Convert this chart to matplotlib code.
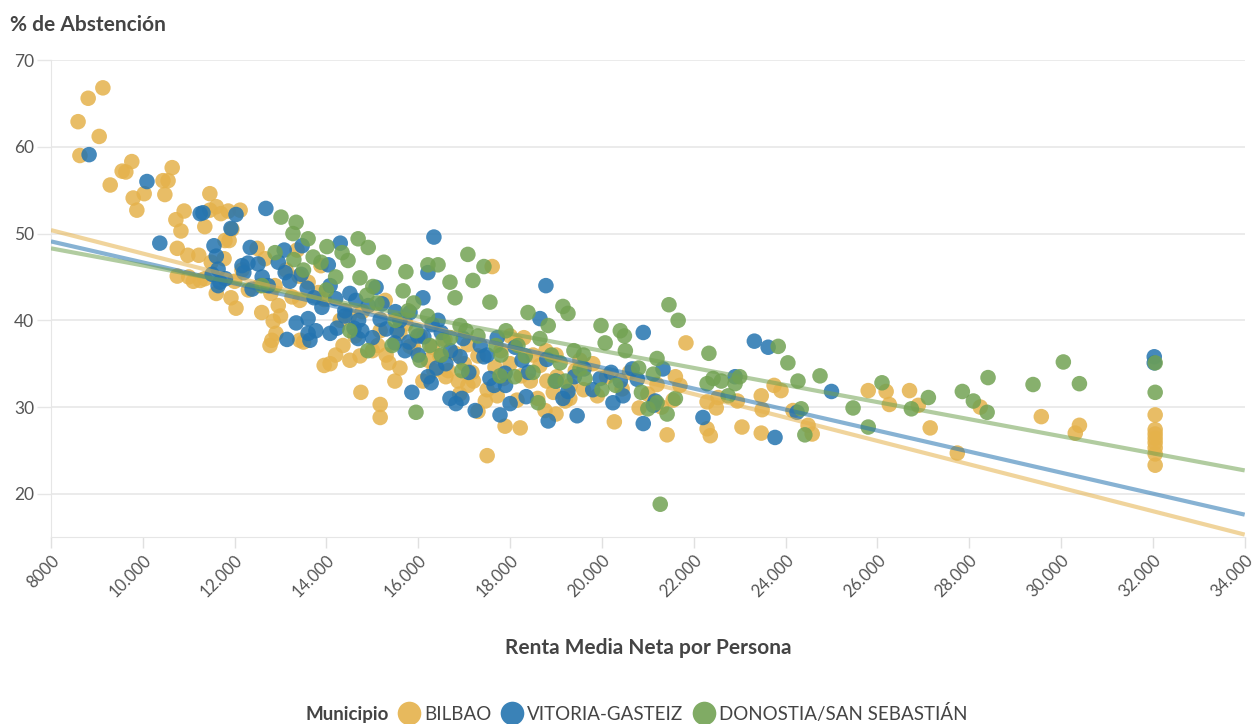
import numpy as np
import matplotlib
matplotlib.use('Agg')
import matplotlib.pyplot as plt
from matplotlib.lines import Line2D

plt.rcParams['font.family'] = ['Lato', 'DejaVu Sans']

# renta media neta (miles de euros) y % de abstención
bilbao_renta = [8.59, 8.81, 9.13, 8.63, 9.05, 9.29, 9.55, 9.63, 9.76, 9.79, 9.87, 10.03, 10.48, 10.44, 10.64,
                10.55, 10.72, 10.83, 10.9, 10.75, 10.98, 10.75, 11.46, 11.6, 11.7, 11.79, 11.86, 11.46, 11.35,
                11.94, 12.12, 11.22, 11.35, 11.25, 11.49, 11.6, 11.92, 12.03, 11.77, 12.16, 11.88, 12.49, 12.66,
                12.55, 12.79, 12.59, 12.81, 12.77, 12.84, 12.95, 13.25, 12.88, 13.12, 13.36, 13.4, 13.42, 13.6,
                13.88, 13.82, 13.95, 13.95, 14.08, 14.36, 14.3, 14.62, 14.78, 14.73, 14.75, 15.17, 15.12, 15.28,
                15.17, 15.17, 15.36, 15.49, 15.6, 15.82, 16.04, 15.73, 16.21, 16.34, 16.47, 16.58, 16.65, 16.87,
                17.08, 17.08, 17.17, 17.3, 17.46, 17.5, 17.61, 17.67, 17.85, 17.72, 18.0, 18.13, 17.89, 18.15,
                18.22, 18.24, 18.44, 18.65, 18.78, 18.76, 18.94, 19.02, 19.2, 19.31, 19.42, 19.52, 19.9, 20.27,
                20.44, 20.81, 21.0, 21.2, 21.42, 21.55, 21.7, 21.83, 22.29, 22.29, 22.36, 22.49, 22.53, 22.95,
                23.05, 23.47, 23.47, 23.49, 23.75, 23.9, 24.16, 24.49, 24.58, 25.8, 26.19, 26.26, 26.7, 26.89,
                27.15, 27.74, 28.24, 29.57, 30.31, 30.4, 32.05, 32.05, 32.05, 32.05, 32.05, 32.05, 32.05, 32.05,
                14.51, 13.42,
                15.0, 15.3, 15.6, 15.9, 16.1, 16.3, 16.6, 16.8, 17.0, 17.2, 17.5, 17.8, 18.0, 18.3, 18.5, 18.8,
                19.0, 19.3, 19.6, 19.8, 20.1, 13.5, 13.0, 12.3, 12.0, 14.2, 14.5, 16.9, 17.3, 18.6, 19.0, 20.6,
                21.3, 21.6, 12.9, 11.0, 11.1]
bilbao_abst = [62.9, 65.6, 66.8, 59.0, 61.2, 55.6, 57.2, 57.1, 58.3, 54.1, 52.7, 54.6, 54.5, 56.1, 57.6,
               56.1, 51.6, 50.3, 52.6, 48.3, 47.5, 45.1, 54.6, 53.1, 52.3, 49.2, 52.6, 52.7, 50.8,
               50.5, 52.7, 47.5, 44.8, 44.6, 46.7, 43.1, 42.6, 41.4, 47.1, 45.8, 49.2, 48.3, 47.1,
               44.0, 43.1, 40.9, 37.7, 37.1, 39.9, 41.7, 42.7, 44.0, 45.8, 48.1, 45.1, 42.3, 44.4,
               46.3, 43.2, 42.4, 34.8, 35.0, 37.1, 40.0, 38.2, 41.0, 35.9, 31.7, 38.8, 37.1, 42.3,
               30.3, 28.8, 35.1, 33.0, 38.5, 37.0, 38.2, 39.6, 35.4, 34.2, 35.9, 37.8, 34.2, 33.0,
               32.5, 37.2, 34.0, 35.9, 30.7, 24.4, 46.2, 34.6, 33.3, 31.3, 38.2, 37.5, 27.8, 30.8,
               27.6, 33.6, 33.0, 34.8, 36.5, 29.6, 31.7, 33.5, 30.7, 32.5, 34.2, 35.4, 31.3, 28.3,
               32.1, 29.9, 31.5, 32.6, 26.8, 30.8, 32.5, 37.4, 30.6, 27.5, 26.7, 29.9, 31.1, 30.7,
               27.7, 31.3, 27.0, 29.7, 32.5, 31.9, 29.6, 27.9, 26.9, 31.9, 31.8, 30.3, 31.9, 30.2,
               27.6, 24.7, 30.0, 28.9, 27.0, 27.9, 29.1, 27.4, 26.9, 26.4, 25.9, 25.3, 24.6, 23.3,
               35.4, 37.7,
               36.5, 36.0, 34.5, 36.8, 33.0, 36.9, 33.5, 36.2, 35.0, 33.0, 32.0, 36.5, 35.0, 38.0, 36.0, 33.0,
               36.0, 31.0, 32.0, 35.0, 33.5, 37.5, 40.5, 43.5, 44.5, 36.0, 40.5, 31.5, 29.5, 31.0, 29.2, 34.0,
               30.0, 33.5, 38.5, 45.0, 44.5]

vitoria_renta = [8.83, 10.09, 10.37, 11.25, 11.31, 11.55, 11.6, 11.64, 11.51, 11.64, 11.68, 11.92, 12.03, 12.16,
                 12.29, 12.34, 12.38, 12.51, 12.68, 12.73, 12.95, 13.08, 13.1, 13.14, 13.34, 13.45, 13.47, 13.58,
                 13.6, 13.64, 13.73, 13.77, 14.04, 14.08, 14.08, 14.23, 14.3, 14.4, 14.51, 14.6, 14.64, 14.69,
                 14.77, 14.91, 15.08, 15.17, 15.21, 15.49, 15.54, 15.6, 15.71, 15.82, 15.86, 15.99, 16.1, 16.12,
                 16.21, 16.21, 16.28, 16.34, 16.43, 16.5, 16.6, 16.69, 16.82, 16.91, 16.95, 16.98, 17.24, 17.35,
                 17.43, 17.56, 17.65, 17.72, 17.78, 17.89, 18.0, 18.11, 18.26, 18.35, 18.65, 18.78, 18.83, 19.0,
                 19.15, 19.26, 19.46, 19.61, 19.96, 20.24, 20.4, 20.46, 20.66, 20.77, 20.9, 20.9, 21.16, 21.12,
                 21.33, 22.2, 22.9, 23.32, 23.62, 23.77, 24.25, 25.0, 32.03, 32.03,
                 12.6, 13.2, 13.9, 14.2, 14.7, 15.0, 15.3, 15.8, 16.0, 16.4, 16.7, 17.1, 17.5, 17.9, 18.4, 18.8,
                 19.4, 19.8, 20.2, 14.4, 13.6, 15.5, 16.3, 11.8, 12.2]
vitoria_abst = [59.1, 56.0, 48.9, 52.3, 52.4, 48.6, 47.4, 45.9, 45.3, 44.0, 44.4, 50.6, 52.2, 46.3,
                46.6, 48.4, 43.6, 46.5, 52.9, 44.0, 46.7, 48.1, 45.5, 37.8, 39.7, 45.3, 48.6, 43.7,
                40.2, 37.7, 42.6, 38.8, 46.4, 44.0, 38.5, 39.1, 48.9, 41.1, 43.1, 39.1, 42.3, 37.9,
                38.8, 41.7, 43.8, 40.1, 41.9, 37.4, 38.8, 40.0, 36.5, 40.9, 31.7, 38.2, 42.6, 38.1,
                45.5, 33.5, 32.8, 49.6, 40.0, 38.6, 35.0, 31.0, 30.4, 35.8, 31.0, 37.9, 29.6, 37.1,
                35.8, 33.3, 32.5, 38.0, 29.1, 33.9, 30.4, 36.9, 35.4, 31.2, 40.2, 44.0, 28.4, 33.0,
                31.0, 31.8, 29.0, 34.4, 33.3, 30.5, 33.0, 31.3, 34.4, 33.2, 38.6, 28.1, 30.7, 30.2,
                34.4, 28.8, 33.5, 37.6, 36.9, 26.5, 29.4, 31.8, 35.8, 35.1,
                45.0, 44.5, 41.5, 42.5, 40.0, 38.0, 39.0, 37.5, 36.0, 34.5, 36.5, 34.0, 36.0, 32.5, 34.0, 35.5,
                33.5, 32.0, 34.0, 40.5, 38.5, 41.0, 39.5, 44.8, 45.5]

donostia_renta = [13.01, 13.34, 13.27, 13.6, 13.71, 12.88, 13.29, 13.88, 14.01, 14.34, 14.47, 14.69, 14.91, 15.25,
                  14.73, 14.88, 15.01, 15.67, 15.73, 15.78, 15.95, 15.95, 16.21, 16.43, 16.54, 16.69, 16.8, 16.91,
                  17.04, 17.08, 17.19, 17.43, 17.56, 17.69, 17.78, 17.91, 18.17, 18.39, 18.65, 18.83, 18.98, 19.09,
                  19.15, 19.26, 19.39, 19.52, 19.63, 19.98, 20.07, 20.4, 20.49, 20.51, 20.86, 21.0, 21.12, 21.2,
                  21.46, 21.66, 21.42, 21.27, 22.33, 22.29, 22.42, 22.75, 22.9, 23.84, 24.05, 24.27, 24.34, 24.42,
                  24.75, 25.47, 25.8, 26.1, 26.74, 27.11, 27.85, 28.09, 28.39, 28.41, 29.39, 30.05, 30.4, 32.05,
                  32.05, 14.51, 15.43, 16.04, 16.25, 16.95, 18.33, 18.61,
                  13.5, 14.0, 14.2, 15.1, 15.5, 15.9, 16.2, 16.7, 17.3, 17.8, 18.1, 18.5, 18.9, 19.2, 19.6, 20.0,
                  20.3, 20.8, 21.2, 21.6, 22.6, 23.0, 12.6, 14.9, 16.5]
donostia_abst = [51.9, 51.3, 50.0, 49.4, 47.3, 47.8, 47.0, 46.7, 48.5, 47.8, 46.9, 49.4, 48.4, 46.7,
                 44.9, 42.9, 43.9, 43.4, 45.6, 41.1, 38.8, 29.4, 46.4, 46.4, 37.7, 44.4, 42.6, 39.4,
                 38.8, 47.6, 44.6, 46.2, 42.1, 37.1, 33.6, 38.8, 37.1, 40.9, 37.9, 39.4, 33.0, 35.1,
                 41.6, 40.8, 36.5, 34.4, 33.3, 39.4, 37.4, 38.8, 38.2, 36.5, 31.7, 29.8, 33.8, 35.6,
                 41.8, 40.0, 29.2, 18.8, 36.2, 32.7, 33.3, 31.3, 32.7, 37.0, 35.1, 33.0, 29.8, 26.8,
                 33.6, 29.9, 27.7, 32.8, 29.8, 31.1, 31.8, 30.7, 29.4, 33.4, 32.6, 35.2, 32.7, 35.1,
                 31.7, 38.8, 37.1, 35.4, 37.1, 34.2, 35.9, 30.5,
                 45.8, 43.5, 45.0, 42.0, 40.0, 42.0, 40.5, 38.0, 38.2, 36.0, 33.5, 34.0, 36.0, 33.0, 36.0, 32.0,
                 32.5, 34.5, 30.5, 31.0, 33.0, 33.5, 44.0, 36.5, 36.0]

# rectas de tendencia: valor en 8000 y en 34000
trend_x = [8000, 34000]
bilbao_trend = [50.4, 15.3]
vitoria_trend = [49.1, 17.6]
donostia_trend = [48.3, 22.7]

municipios = ['BILBAO', 'VITORIA-GASTEIZ', 'DONOSTIA/SAN SEBASTIÁN']
colors = ['#E5B24B', '#2474B0', '#72A253']

x_ticks = [8000, 10000, 12000, 14000, 16000, 18000, 20000, 22000, 24000, 26000, 28000, 30000, 32000, 34000]
x_ticklabels = ['8000', '10.000', '12.000', '14.000', '16.000', '18.000', '20.000', '22.000', '24.000',
                '26.000', '28.000', '30.000', '32.000', '34.000']
y_ticks = [20, 30, 40, 50, 60, 70]


def main():
    fig = plt.figure(figsize=(12.56, 7.24), dpi=100)
    ax = fig.add_axes([0.0406, 0.258, 0.9504, 0.659])

    series = [
        (bilbao_renta, bilbao_abst, bilbao_trend),
        (vitoria_renta, vitoria_abst, vitoria_trend),
        (donostia_renta, donostia_abst, donostia_trend),
    ]
    for (rx, ab, tr), c in zip(series, colors):
        ax.scatter(np.array(rx) * 1000, ab, s=125, color=c, alpha=0.85, edgecolors='none', zorder=3)
    for (rx, ab, tr), c in zip(series, colors):
        ax.plot(trend_x, tr, color=c, lw=3, alpha=0.55, zorder=4, solid_capstyle='butt')

    ax.set_xlim(8000, 34000)
    ax.set_ylim(15, 70)
    ax.set_xticks(x_ticks)
    ax.set_xticklabels(x_ticklabels, rotation=45, ha='right', rotation_mode='anchor')
    ax.set_yticks(y_ticks)
    ax.tick_params(axis='x', colors='#e0e0e0', labelcolor='#555555', labelsize=12, length=8, width=1, pad=3)
    ax.tick_params(axis='y', colors='#e6e6e6', labelcolor='#555555', labelsize=12.5, length=10, width=1, pad=2)
    ax.grid(axis='y', color='#e8e8e8', lw=1.2, zorder=0)
    for s in ['top', 'right']:
        ax.spines[s].set_visible(False)
    ax.spines['left'].set_color('#e6e6e6')
    ax.spines['bottom'].set_color('#e6e6e6')

    fig.text(0.008, 0.965, '% de Abstención', fontsize=15, fontweight='bold', color='#444444', va='center')
    fig.text(0.516, 0.105, 'Renta Media Neta por Persona', fontsize=15, fontweight='bold', color='#444444',
             ha='center', va='center')

    handles = [Line2D([], [], linestyle='none', marker=None)]
    labels = ['Municipio']
    for name, c in zip(municipios, colors):
        handles.append(Line2D([], [], linestyle='none', marker='o', markersize=17, color=c,
                              markeredgecolor='none', alpha=0.9))
        labels.append(name)
    leg = fig.legend(handles, labels, loc='center', bbox_to_anchor=(0.497, 0.015), ncol=4, frameon=False,
                     fontsize=13.5, handlelength=1.0, handletextpad=0.3, columnspacing=0.6)
    for i, t in enumerate(leg.get_texts()):
        t.set_color('#444444')
        if i == 0:
            t.set_fontweight('bold')

    fig.savefig('out.png', dpi=100)
    plt.close(fig)


if __name__ == "__main__":
    main()
